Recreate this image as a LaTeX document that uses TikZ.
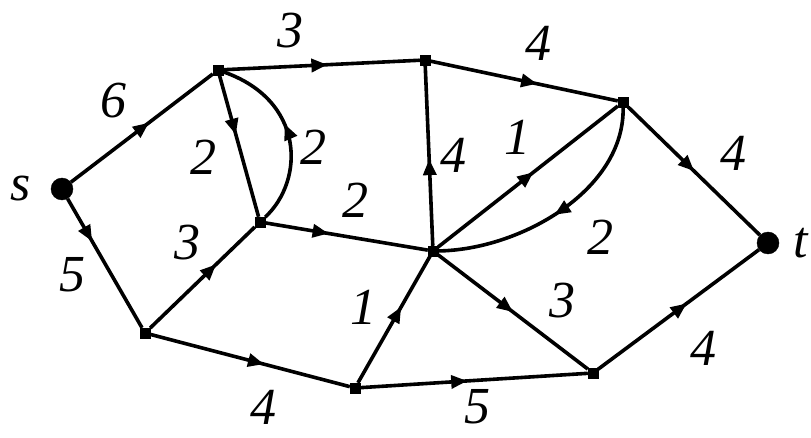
\documentclass[tikz,border=0pt]{standalone}
\usepackage{fontspec}
\setmainfont{Liberation Serif}
\usetikzlibrary{arrows.meta,decorations.markings}

\begin{document}
\begin{tikzpicture}[
  x=1pt, y=-1pt,
  vtx/.style={draw, fill, rectangle, inner sep=0pt, minimum size=10pt},
  term/.style={draw, fill, circle, inner sep=0pt, minimum size=22pt},
  lbl/.style={inner sep=0pt, font=\fontsize{52}{56}\selectfont\itshape},
  edge/.style={line width=3.6pt},
  mid/.style={edge, postaction={decorate},
    decoration={markings, mark=at position #1 with {\arrow{Triangle[length=16pt, width=13pt]}}}},
]
\useasboundingbox (0,0) rectangle (811,438);

% ---------- vertices ----------
\node[term] (s) at (62,189) {};
\node[term] (t) at (768,243) {};
\node[vtx] (a) at (218,70) {};
\node[vtx] (b) at (425,60) {};
\node[vtx] (c) at (623,102) {};
\node[vtx] (d) at (260,222) {};
\node[vtx] (e) at (433,251) {};
\node[vtx] (f) at (145,333) {};
\node[vtx] (g) at (355,388) {};
\node[vtx] (h) at (593,373) {};

\node[lbl] (sl) at (21,189) {s};
\node[lbl] (tl) at (801,243) {t};

% ---------- arcs ----------
\draw[mid=.55] (s) -- (a);
\draw[mid=.33] (s) -- (f);
\draw[mid=.53] (a) -- (b);
\draw[mid=.57] (b) -- (c);
\draw[mid=.5] (c) -- (t);
\draw[mid=.42] (a) -- (d);
\draw[mid=.55] (d) .. controls (305,180) and (305,100) .. (a);
\draw[mid=.39] (d) -- (e);
\draw[mid=.63] (f) -- (d);
\draw[mid=.57] (f) -- (g);
\draw[mid=.6] (g) -- (e);
\draw[mid=.47] (g) -- (h);
\draw[mid=.48] (e) -- (b);
\draw[mid=.53] (e) -- (c);
\draw[mid=.52] (c) .. controls (625,190) and (520,250) .. (e);
\draw[mid=.5] (e) -- (h);
\draw[mid=.55] (h) -- (t);

% ---------- capacities ----------
\node[lbl] (c1) at (113,101) {6};
\node[lbl] (c2) at (72,275) {5};
\node[lbl] (c3) at (290,31) {3};
\node[lbl] (c4) at (538,43) {4};
\node[lbl] (c5) at (733,153) {4};
\node[lbl] (c6) at (203,157) {2};
\node[lbl] (c7) at (313,147) {2};
\node[lbl] (c8) at (355,200) {2};
\node[lbl] (c9) at (187,243) {3};
\node[lbl] (c10) at (263,407) {4};
\node[lbl] (c11) at (363,307) {1};
\node[lbl] (c12) at (477,407) {5};
\node[lbl] (c13) at (453,155) {4};
\node[lbl] (c14) at (517,137) {1};
\node[lbl] (c15) at (600,237) {2};
\node[lbl] (c16) at (562,301) {3};
\node[lbl] (c17) at (703,348) {4};
\end{tikzpicture}
\end{document}
